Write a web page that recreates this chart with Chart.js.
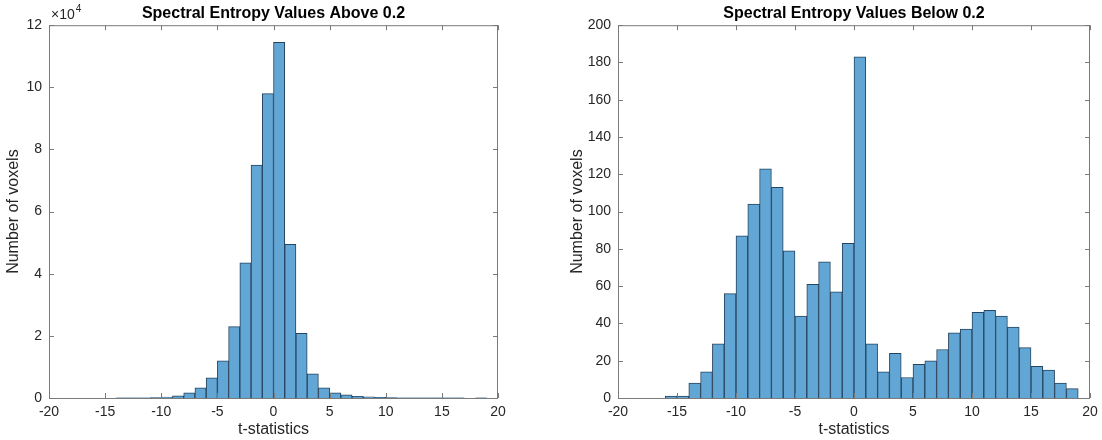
<!DOCTYPE html>
<html>
<head>
<meta charset="utf-8">
<script src="https://cdn.jsdelivr.net/npm/chart.js@4"></script>
<style>
  body { margin: 0; background: #fff; overflow: hidden; }
  .box { position: absolute; top: 0; height: 440px; }
  #left { left: 0; width: 547px; }
  #right { left: 550px; width: 608px; }
</style>
</head>
<body>
<div class="box" id="left"><canvas id="aboveChart"></canvas></div>
<div class="box" id="right"><canvas id="belowChart"></canvas></div>
<script>
'use strict';

// bin centres (width 1) and counts
let aboveBins = [-13.5, -12.5, -11.5, -10.5, -9.5, -8.5, -7.5, -6.5, -5.5, -4.5, -3.5, -2.5, -1.5, -0.5, 0.5, 1.5, 2.5, 3.5, 4.5, 5.5, 6.5, 7.5, 8.5, 9.5, 10.5, 11.5, 12.5, 13.5, 14.5, 15.5, 16.5, 17.5, 18.5];
let aboveCounts = [40, 60, 90, 150, 300, 700, 1700, 3300, 6500, 12000, 23000, 43500, 75000, 98000, 114500, 49500, 20800, 7800, 3300, 1700, 1000, 550, 350, 180, 110, 80, 60, 50, 40, 30, 30, null, 60];

let belowBins = [-15.5, -14.5, -13.5, -12.5, -11.5, -10.5, -9.5, -8.5, -7.5, -6.5, -5.5, -4.5, -3.5, -2.5, -1.5, -0.5, 0.5, 1.5, 2.5, 3.5, 4.5, 5.5, 6.5, 7.5, 8.5, 9.5, 10.5, 11.5, 12.5, 13.5, 14.5, 15.5, 16.5, 17.5, 18.5];
let belowCounts = [1, 1, 8, 14, 29, 56, 87, 104, 123, 113, 79, 44, 61, 73, 57, 83, 183, 29, 14, 24, 11, 18, 20, 26, 35, 37, 46, 47, 44, 38, 27, 17, 15, 8, 5];

let xTicks = [-20, -15, -10, -5, 0, 5, 10, 15, 20];

const FONT = "'Liberation Sans', Arial, sans-serif";
const TEXT = '#262626';

// MATLAB-like box with inward tick marks on all four sides
const boxPlugin = {
  id: 'matlabBox',
  afterDraw(chart, args, opts) {
    const { ctx, chartArea: a, scales } = chart;
    ctx.save();
    ctx.strokeStyle = '#7a7a7a';
    ctx.lineWidth = 1;
    ctx.strokeRect(a.left + 0.5, a.top + 0.5, a.right - a.left - 1, a.bottom - a.top);
    ctx.beginPath();
    scales.x.ticks.forEach(t => {
      let px = Math.round(scales.x.getPixelForValue(t.value)) + 0.5;
      ctx.moveTo(px, a.bottom); ctx.lineTo(px, a.bottom - 5);
      ctx.moveTo(px, a.top); ctx.lineTo(px, a.top + 5);
    });
    scales.y.ticks.forEach(t => {
      let py = Math.round(scales.y.getPixelForValue(t.value)) + 0.5;
      ctx.moveTo(a.left, py); ctx.lineTo(a.left + 5, py);
      ctx.moveTo(a.right, py); ctx.lineTo(a.right - 5, py);
    });
    ctx.stroke();
    if (opts.exponent) {
      ctx.fillStyle = TEXT;
      ctx.textBaseline = 'alphabetic';
      ctx.font = '14px ' + FONT;
      ctx.fillText('\u00d710', a.left + 2, a.top - 6);
      let w = ctx.measureText('\u00d710').width;
      ctx.font = '10px ' + FONT;
      ctx.fillText(opts.exponent, a.left + 3 + w, a.top - 13);
    }
    ctx.restore();
  }
};

function makeChart(id, titleText, bins, counts, yMax, yStep, yWidth, yTitlePad, tickFmt, exponent) {
  let points = [];
  for (let i = 0; i < bins.length; i++) {
    points.push({ x: bins[i], y: counts[i] });
  }
  return new Chart(document.getElementById(id), {
    type: 'bar',
    data: {
      datasets: [{
        data: points,
        backgroundColor: 'rgb(97, 166, 213)',
        borderColor: '#26445f',
        borderWidth: 1,
        barPercentage: 1,
        categoryPercentage: 1
      }]
    },
    options: {
      responsive: true,
      maintainAspectRatio: false,
      animation: false,
      layout: { padding: 0 },
      plugins: {
        legend: { display: false },
        tooltip: { enabled: false },
        title: {
          display: true,
          text: titleText,
          color: '#000',
          font: { family: FONT, size: 16, weight: 'bold' },
          padding: { top: 4, bottom: 2 }
        },
        matlabBox: { exponent: exponent }
      },
      scales: {
        x: {
          type: 'linear',
          min: -20,
          max: 20,
          offset: false,
          grid: { display: false, offset: false, drawTicks: false },
          border: { display: false },
          afterBuildTicks: s => { s.ticks = xTicks.map(v => ({ value: v })); },
          ticks: { color: TEXT, font: { family: FONT, size: 14 }, padding: 6, maxRotation: 0 },
          title: { display: true, text: 't-statistics', color: TEXT, font: { family: FONT, size: 16 }, padding: { top: 0, bottom: 1 } },
          afterFit: s => { s.height = 42; }
        },
        y: {
          min: 0,
          max: yMax,
          grid: { display: false, drawTicks: false },
          border: { display: false },
          ticks: { stepSize: yStep, color: TEXT, font: { family: FONT, size: 14 }, padding: 7, callback: tickFmt },
          title: { display: true, text: 'Number of voxels', color: TEXT, font: { family: FONT, size: 16 }, padding: { top: yTitlePad, bottom: 0 } },
          afterFit: s => { s.width = yWidth; }
        },
        // empty right-hand axis so the title is centred over the plot box
        yRight: {
          position: 'right',
          grid: { display: false, drawTicks: false },
          border: { display: false },
          ticks: { display: false },
          afterFit: s => { s.width = yWidth; }
        }
      }
    },
    plugins: [boxPlugin]
  });
}

makeChart('aboveChart', 'Spectral Entropy Values Above 0.2', aboveBins, aboveCounts,
  120000, 20000, 49, 4, v => v / 10000, '4');
makeChart('belowChart', 'Spectral Entropy Values Below 0.2', belowBins, belowCounts,
  200, 20, 68, 18, v => v, null);
</script>
</body>
</html>
